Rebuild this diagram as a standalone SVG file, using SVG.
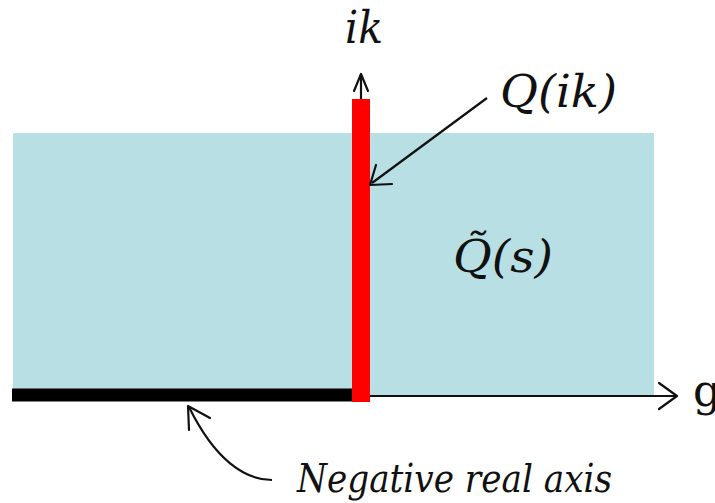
<svg xmlns="http://www.w3.org/2000/svg" width="715" height="503" viewBox="0 0 715 503">
<style>
.t{font-family:"DejaVu Serif","Liberation Serif",serif;font-style:italic;fill:#111}
.r{font-family:"DejaVu Serif","Liberation Serif",serif;fill:#111}
.ln{fill:none;stroke:#111;stroke-width:2.2}
.ah{fill:none;stroke:#111;stroke-width:2.2;stroke-linecap:round;stroke-linejoin:round}
</style>
<rect width="715" height="503" fill="#fff"/>
<g id="region">
<rect x="13" y="133" width="641" height="262" fill="#b8dfe3"/>
</g>
<g id="connectors">
<line class="ln" x1="361" y1="396" x2="676" y2="396"/>
<path class="ah" d="M659,383 L677,396 L659,409"/>
<line x1="12" y1="395" x2="360" y2="395" stroke="#000" stroke-width="13"/>
<line class="ln" x1="361" y1="100" x2="361" y2="74"/>
<path class="ah" d="M354,91 L361,74 L368,91"/>
<rect x="352" y="99" width="18" height="303" fill="#ff0000"/>
<line class="ln" x1="487" y1="98" x2="372" y2="183"/>
<path class="ah" d="M376,165 L370,185 L392,184"/>
<path class="ln" d="M272,480 C245,480 215,460 189,407"/>
<path class="ah" d="M189,430 L188,406 L210,418"/>
</g>
<g id="labels">
<text class="t" x="345" y="43" font-size="44" textLength="38" lengthAdjust="spacingAndGlyphs">ik</text>
<text class="t" x="500" y="107" font-size="44" textLength="117" lengthAdjust="spacingAndGlyphs">Q(ik)</text>
<text class="t" x="453" y="272" font-size="44" textLength="100" lengthAdjust="spacingAndGlyphs">Q̃(s)</text>
<text class="r" x="693" y="406" font-size="44">g</text>
<text class="t" x="297" y="492" font-size="40" textLength="315" lengthAdjust="spacingAndGlyphs">Negative real axis</text>
</g>
</svg>
